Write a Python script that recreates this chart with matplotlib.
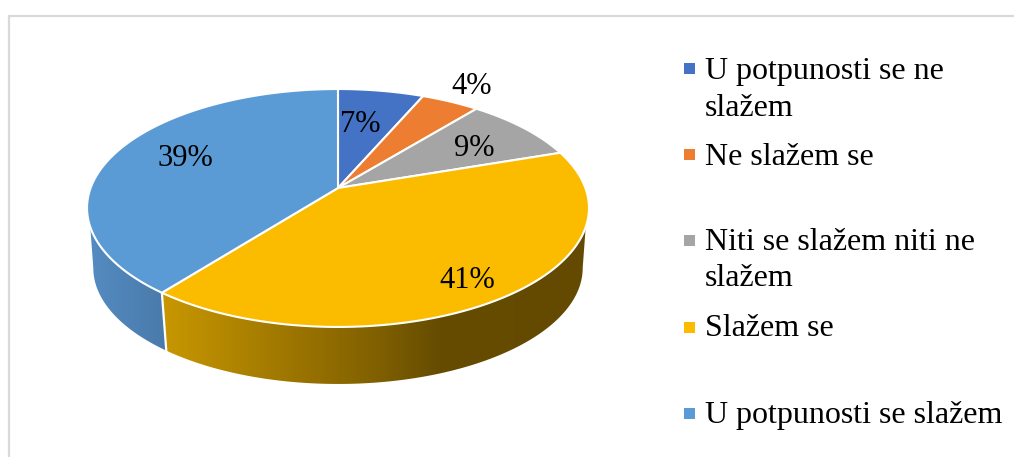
import numpy as np
import matplotlib
matplotlib.use("Agg")
import matplotlib.pyplot as plt
from matplotlib.colors import LinearSegmentedColormap
from matplotlib.patches import Polygon, Rectangle

# DATA
categories = ["U potpunosti se ne\nslažem", "Ne slažem se", "Niti se slažem niti ne\nslažem",
              "Slažem se", "U potpunosti se slažem"]
values = [6.5, 4.4, 8.9, 40.8, 39.4]
value_labels = ["7%", "4%", "9%", "41%", "39%"]
colors = ["#4472C4", "#ED7D31", "#A5A5A5", "#FBBC00", "#5B9BD5"]

plt.rcParams["font.family"] = ["Liberation Serif", "DejaVu Serif"]

# pie geometry in pixels
cx, cy = 338, 188
A, B, k = 247.4, 115.6, 0.168
low_scale, low_shift = 0.975, 60.5


def rim(theta, scale=1.0, shift=0.0):
    # theta is clockwise from 12 o'clock, the perspective makes the front bigger
    u, v = np.sin(theta), np.cos(theta)
    w = 1 + k * v
    return np.column_stack([cx + scale * A * u / w, cy + scale * (-B * v / w) + shift])


def arc(a, b, n=200):
    return np.linspace(a, b, n)


fig = plt.figure(figsize=(10.14, 4.57), dpi=100)
ax = fig.add_axes([0, 0, 1, 1])
ax.set_xlim(0, 1014)
ax.set_ylim(457, 0)
ax.axis("off")

# chart frame
ax.plot([9, 9, 1014], [457, 16, 16], color="#D9D9D9", lw=1.6, solid_joinstyle="miter")

shares = np.array(values) / sum(values)
edges = np.concatenate([[0], np.cumsum(shares)]) * 2 * np.pi

# side of the pie, only the two big slices show it
top_start = np.pi - np.arccos(0.32)
top_end = np.pi + np.arccos(0.32)
low_start = np.pi - np.arccos(k)
low_end = np.pi + np.arccos(k)
split = edges[4]

yellow_side = LinearSegmentedColormap.from_list("ys", [(0, "#CC9A00"), (0.524, "#7F5F00"), (0.66, "#654C00"), (1, "#634A00")])
blue_side = LinearSegmentedColormap.from_list("bs", [(0, "#558CC2"), (1, "#4878A8")])

sides = [
    (np.vstack([rim(arc(top_start, split)), rim(arc(split, low_start), low_scale, low_shift)]), yellow_side, 150, 589),
    (np.vstack([rim(arc(split, top_end)), rim(arc(low_end, split), low_scale, low_shift)]), blue_side, 87, 175),
]
for pts, cmap, x0, x1 in sides:
    im = ax.imshow(np.linspace(0, 1, 256).reshape(1, -1), cmap=cmap, extent=[x0, x1, 400, 190], aspect="auto", zorder=2)
    im.set_clip_path(Polygon(pts, closed=True, transform=ax.transData))

# white split between the side faces
ax.plot(*np.vstack([rim(np.array([split])), rim(np.array([split]), low_scale, low_shift)]).T, color="white", lw=1.6, zorder=3)

# top face
for i in range(len(values)):
    pts = np.vstack([[cx, cy], rim(arc(edges[i], edges[i + 1]))])
    ax.add_patch(Polygon(pts, closed=True, facecolor=colors[i], edgecolor="white", lw=1.5, zorder=4, joinstyle="round"))

# data labels
label_x = [360, 472, 474, 467, 185]
label_y = [125, 87, 149, 280, 159]
for i in range(len(values)):
    ax.text(label_x[i], label_y[i], value_labels[i], fontsize=22, ha="center", va="center", color="black", zorder=5)

# legend
marker_y = [68, 154, 240, 327, 413]
text_y = [79, 165, 250, 336, 423]
for i in range(len(categories)):
    ax.add_patch(Rectangle((684, marker_y[i] - 5.5), 11, 11, facecolor=colors[i], edgecolor="none"))
    for j, line in enumerate(categories[i].split("\n")):
        ax.text(705, text_y[i] + j * 36.5, line, fontsize=23, ha="left", va="baseline", color="black")

fig.savefig("out.png", dpi=100)
